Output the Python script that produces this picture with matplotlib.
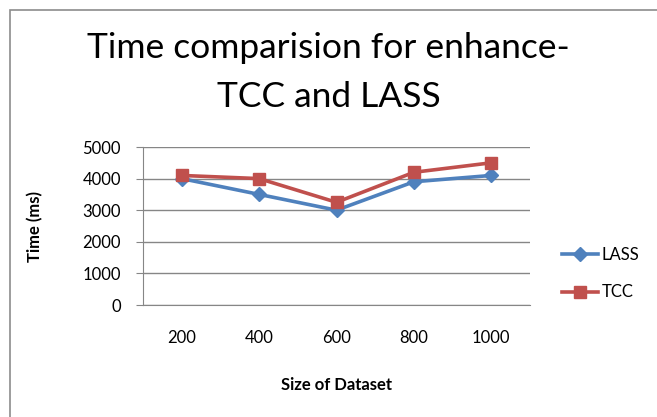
import matplotlib
matplotlib.use("Agg")
import matplotlib.pyplot as plt
from matplotlib.patches import Rectangle

plt.rcParams['font.family'] = ['Lato', 'DejaVu Sans']

sizes = ['200', '400', '600', '800', '1000']
lass = [4000, 3500, 3000, 3900, 4100]
tcc = [4100, 4000, 3250, 4200, 4500]
yticks = [0, 1000, 2000, 3000, 4000, 5000]

fig = plt.figure(figsize=(6.57, 4.17), dpi=100)
# chart border, cut off at right and bottom like the screenshot
fig.patches.append(Rectangle((10 / 657, -0.1), 1.2, 1 - 10 / 417 + 0.1,
                             transform=fig.transFigure, fill=False,
                             edgecolor='#8c8c8c', linewidth=1.2))

ax = fig.add_axes([143 / 657, 1 - 305 / 417, 387 / 657, 158 / 417])
x = list(range(len(sizes)))
ax.plot(x, lass, color='#4F81BD', linewidth=2.6, marker='D', markersize=7, label='LASS')
ax.plot(x, tcc, color='#C0504D', linewidth=2.6, marker='s', markersize=9, label='TCC')

ax.set_xlim(-0.5, 4.5)
ax.set_ylim(0, 5000)
ax.set_yticks(yticks)
ax.set_xticks(x)
ax.set_xticklabels(sizes)
ax.grid(axis='y', color='#868686', linewidth=1)
ax.set_axisbelow(True)
for s in ['top', 'right']:
    ax.spines[s].set_visible(False)
ax.spines['left'].set_color('#868686')
ax.spines['bottom'].set_color('#868686')
ax.tick_params(axis='y', length=5, color='#868686', labelsize=12, pad=11)
ax.tick_params(axis='x', length=0, labelsize=12, pad=18)

ax.set_xlabel('Size of Dataset', fontsize=12, fontweight='bold', labelpad=22)
ax.set_ylabel('Time (ms)', fontsize=12, fontweight='bold', labelpad=28)

fig.text(0.5, 1 - 48 / 417, 'Time comparision for enhance-', fontsize=25.5, ha='center', va='center')
fig.text(0.5, 1 - 97 / 417, 'TCC and LASS', fontsize=25.5, ha='center', va='center')

ax.legend(loc='upper left', bbox_to_anchor=(555 / 657, 1 - 240 / 417),
          bbox_transform=fig.transFigure, frameon=False, fontsize=12,
          handlelength=2.2, handletextpad=0.2, labelspacing=1.3, borderaxespad=0)

fig.savefig('out.png', dpi=100)
